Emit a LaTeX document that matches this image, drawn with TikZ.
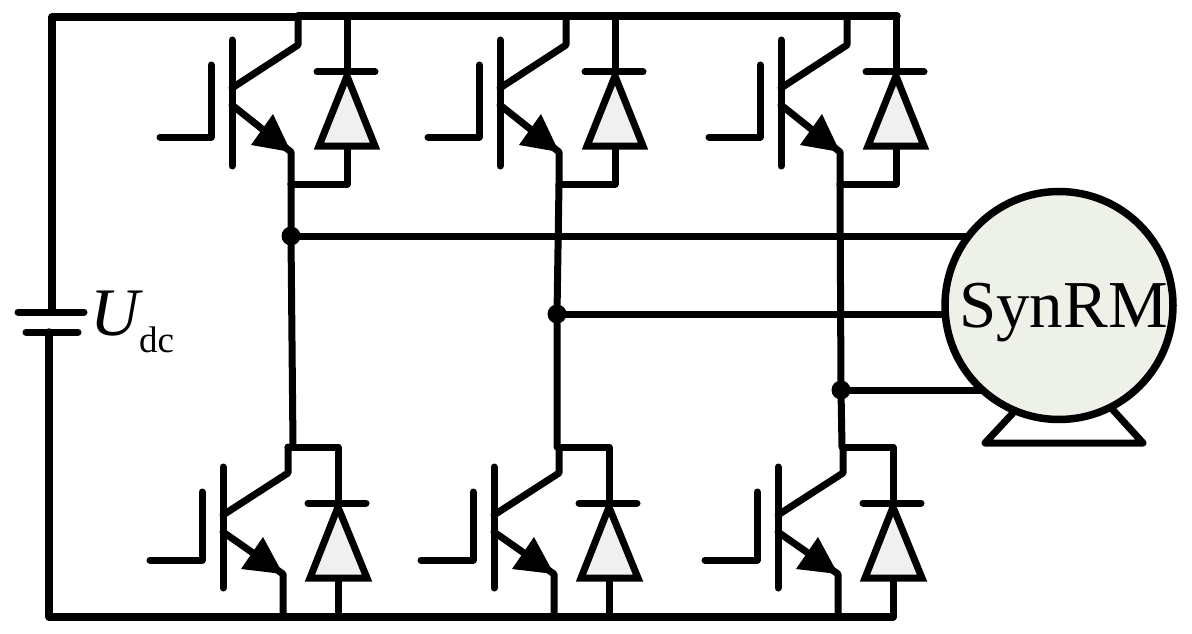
\documentclass[tikz,border=0pt]{standalone}
\usepackage{fontspec}
\setmainfont{Liberation Serif}
\definecolor{diodefill}{HTML}{F0F0F0}
\definecolor{motorfill}{HTML}{EEF1E8}
\tikzset{
  x=1pt,y=-1pt,
  wire/.style={line width=7pt,line cap=round,line join=round,draw=black},
  rail/.style={line width=7.5pt,line cap=round,line join=round,draw=black},
  diodebody/.style={wire,fill=diodefill,line join=miter},
  head/.style={fill=black,draw=none},
  dot/.style={circle,fill=black,inner sep=0pt,minimum size=19pt},
  motorbody/.style={circle,draw=black,line width=7.5pt,fill=motorfill,inner sep=0pt,minimum size=228pt},
  lab/.style={inner sep=0pt,anchor=base west},
  upperigbt/.pic={
    \coordinate (-top) at (298,17);
    \coordinate (-dtop) at (347,17);
    \coordinate (-out) at (291,184);
    \coordinate (-dout) at (347,184);
    \coordinate (-gs) at (160,137);
    \coordinate (-tip) at (291,152);
    \draw[wire] (-gs) -- (211,137) -- (211,65);
    \draw[wire] (232,40) -- (232,166);
    \draw[wire] (232,88) -- (298,45) -- (-top);
    \draw[wire] (232,105) -- (-tip) -- (-out);
    \fill[head] (-tip) -- (273,114) -- (251,145) -- cycle;
    \draw[wire] (-out) -- (-dout) -- (347,146);
    \draw[wire] (-dtop) -- (347,72);
    \draw[diodebody] (347,76) -- (375,146) -- (319,146) -- cycle;
    \draw[wire] (317,72) -- (375,72);
  },
  lowerigbt/.pic={
    \coordinate (-top) at (288,447);
    \coordinate (-dbot) at (338,617);
    \coordinate (-bot) at (283,617);
    \coordinate (-gs) at (150,560);
    \coordinate (-tip) at (283,574);
    \draw[wire] (-gs) -- (202,560) -- (202,492);
    \draw[wire] (223,467) -- (223,588);
    \draw[wire] (223,515) -- (288,473) -- (-top);
    \draw[wire] (-top) -- (338,447) -- (338,503);
    \draw[wire] (223,532) -- (-tip) -- (-bot);
    \fill[head] (-tip) -- (263,537) -- (241,569) -- cycle;
    \draw[wire] (338,578) -- (-dbot);
    \draw[diodebody] (338,507) -- (367,578) -- (310,578) -- cycle;
    \draw[wire] (308,503) -- (366,503);
  }
}
\begin{document}
\begin{tikzpicture}
\useasboundingbox (0,0) rectangle (1192,634);
% switches
\pic (u1) at (0,0) {upperigbt};
\pic (u2) at (268,0) {upperigbt};
\pic (u3) at (549,0) {upperigbt};
\pic (l1) at (0,0) {lowerigbt};
\pic (l2) at (271,0) {lowerigbt};
\pic (l3) at (555,0) {lowerigbt};
% battery terminals
\coordinate (pa) at (18,312);
\coordinate (pb) at (84,312);
\coordinate (na) at (26,332);
\coordinate (nb) at (78,332);
\coordinate (tl) at (52,17);
\coordinate (tm) at (298,16);
\coordinate (tr) at (897,16);
\coordinate (bl) at (49,617);
\coordinate (br) at (893,617);
\coordinate (pm) at (52,312);
\coordinate (nm) at (49,332);
% rails
\draw[rail] (pm) -- (tl) -- (298,17);
\draw[rail] (tm) -- (tr);
\draw[rail] (nm) -- (bl) -- (br);
\draw[wire] (pa) -- (pb);
\draw[wire] (na) -- (nb);
% motor stand
\coordinate (sa) at (1013,413);
\coordinate (sb) at (985,443);
\coordinate (sc) at (1143,443);
\coordinate (sd) at (1113,410);
\draw[wire] (sa) -- (sb) -- (sc) -- (sd);
% junctions
\node[dot] (j1) at (291,236) {};
\node[dot] (j2) at (557,314) {};
\node[dot] (j3) at (841,390) {};
% phase legs
\coordinate (s1) at (293,447);
\coordinate (s2) at (557,447);
\coordinate (s3) at (842,447);
\draw[wire] (u1-out) -- (j1) -- (s1);
\draw[wire] (u2-out) -- (j2) -- (s2);
\draw[wire] (u3-out) -- (j3) -- (s3);
% phase wires
\draw[wire] (j1) -- (1000,236);
\draw[wire] (j2) -- (1000,314);
\draw[wire] (j3) -- (1000,390);
% motor
\node[motorbody] (motor) at (1059,305.5) {};
\node[lab] (mlabel) at (959,327) {\fontsize{67}{70}\selectfont SynRM};
% voltage label
\node[lab] (ulabel) at (90,335) {\fontsize{68}{70}\selectfont\itshape U};
\node[lab] (dclabel) at (139,352) {\fontsize{37}{40}\selectfont dc};
\end{tikzpicture}
\end{document}
